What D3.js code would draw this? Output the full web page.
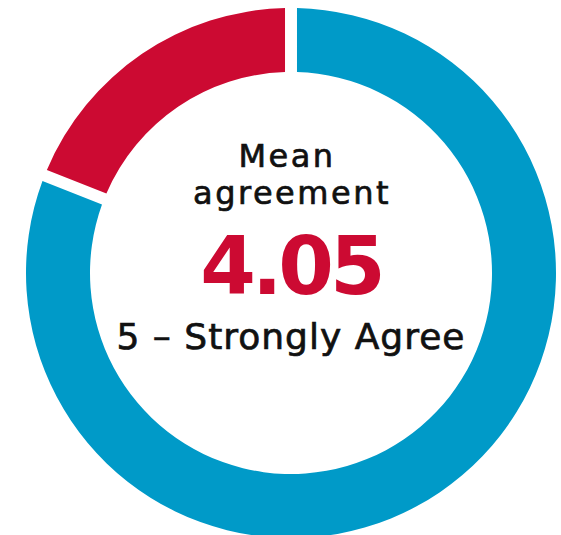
<!DOCTYPE html>
<html lang="en">
  <head>
    <meta charset="UTF-8" />
    <title>Mean agreement</title>
    <style>
      body { margin: 0; background: #fff; }
      svg { display: block; }
    </style>
  </head>
  <body>
    <div id="chart"></div>

    <script src="https://cdn.jsdelivr.net/npm/d3@7"></script>
    <script>
    // values
    var meanScore = 4.05;
    var scaleMax = 5;
    var segmentNames = ["score", "rest"];
    var segmentValues = [meanScore, scaleMax - meanScore];
    var segmentColors = ["#009ac8", "#cc0a32"];
    var titleLines = ["Mean", "agreement"];
    var scaleLabel = "5 \u2013 Strongly Agree";

    var width = 561;
    var height = 535;
    var cx = 291, cy = 273;
    var outerR = 265, innerR = 201;

    var svg = d3.select("#chart")
                .append("svg")
                .attr("width", width)
                .attr("height", height);

    var g = svg.append("g")
               .attr("transform", "translate(" + cx + "," + cy + ")");

    var pie = d3.pie()
                .sort(null)
                .value(function(d){ return d; });

    var arc = d3.arc()
                .innerRadius(innerR)
                .outerRadius(outerR)
                .padAngle(0.036);

    g.selectAll("path")
     .data(pie(segmentValues))
     .enter()
     .append("path")
     .attr("d", arc)
     .attr("fill", function(d, i){ return segmentColors[i]; })
     .attr("class", function(d, i){ return segmentNames[i]; });

    // centre text
    var font = "'DejaVu Sans', sans-serif";
    g.selectAll("text.title")
     .data(titleLines)
     .enter()
     .append("text")
     .attr("class", "title")
     .attr("x", function(d, i){ return i == 0 ? -4 : 1; })
     .attr("y", function(d, i){ return -106 + i * 37; })
     .attr("text-anchor", "middle")
     .style("font-family", font)
     .style("font-size", "32px")
     .style("letter-spacing", "2.5px")
     .style("fill", "#111")
     .style("stroke", "#111")
     .style("stroke-width", 0.7)
     .text(function(d){ return d; });

    g.append("text")
     .attr("x", 0)
     .attr("y", 21)
     .attr("text-anchor", "middle")
     .style("font-family", font)
     .style("font-weight", "bold")
     .style("font-size", "80px")
     .style("letter-spacing", "-4px")
     .style("fill", segmentColors[1])
     .text(d3.format(".2f")(meanScore));

    g.append("text")
     .attr("x", 0)
     .attr("y", 76)
     .attr("text-anchor", "middle")
     .style("font-family", font)
     .style("font-size", "36px")
     .style("letter-spacing", "1px")
     .style("fill", "#111")
     .style("stroke", "#111")
     .style("stroke-width", 0.7)
     .text(scaleLabel);
    </script>
  </body>
</html>
